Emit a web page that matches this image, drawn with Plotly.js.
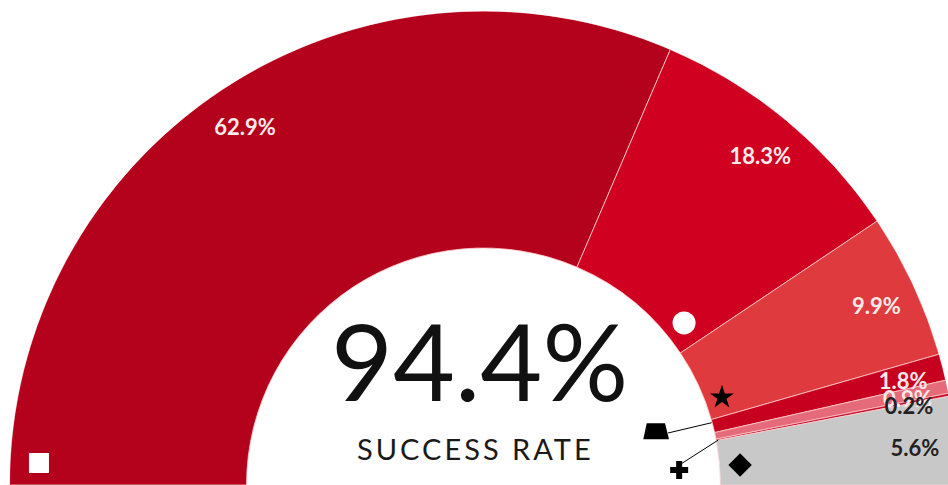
<!DOCTYPE html>
<html><head><meta charset="utf-8">
<script src="https://cdn.plot.ly/plotly-3.0.1.min.js"></script>
<style>
html,body{margin:0;padding:0;background:#fff;overflow:hidden;}
#wrap{width:948px;height:485px;overflow:hidden;position:relative;}
#chart{width:1000px;height:500px;position:absolute;left:0;top:0;}
g.annotation[data-index="1"] text{letter-spacing:3px;}
</style></head><body>
<div id="wrap"><div id="chart"></div></div>
<script>
// ---- data ----
const categories = ['Square', 'Circle', 'Star', 'Trapezoid', 'Unmarked', 'Cross', 'Diamond (failure)'];
const values = [62.9, 18.3, 9.9, 1.8, 0.9, 0.2, 5.6];
const labelTexts = ['62.9%', '18.3%', '9.9%', '1.8%', '0.9%', '0.2%', '5.6%'];
const centerValue = '94.4%';
const centerLabel = 'SUCCESS RATE';

// ---- styles ----
const sliceColors = ['#b4011c', '#cf0020', '#df3b3e', '#c70020', '#e56b7a', '#c41030', '#c8c8c8'];
const labelColors = ['#fbeaea', '#fbeaea', '#fbeaea', '#fbeaea', '#fbeaea', '#222222', '#222222'];

// key symbols placed on the ring (polar position: theta in degrees, r as fraction of outer radius)
const keySymbols = ['square', 'circle', 'star', 'diamond', 'cross'];
const keyTheta = [2.83, 141.06, 159.81, 175.54, 175.61];
const keyR = [0.939, 0.544, 0.536, 0.543, 0.414];
const keySizes = [20, 23, 18, 18, 15];
const keyColors = ['#ffffff', '#ffffff', '#000000', '#000000', '#000000'];

// percentage points -> degrees of the half ring
const DEG_PER_PCT = 1.8;
const thetaMid = [], widths = [];
let cum = 0;
values.forEach((v, i) => {
  let w = v * DEG_PER_PCT;
  if (i === values.length - 1) w = 180 - cum * DEG_PER_PCT; // last slice closes the half ring
  thetaMid.push(cum * DEG_PER_PCT + w / 2);
  widths.push(w);
  cum += v;
});

const ringInner = 0.5, ringOuter = 1.0, labelR = 0.914;

const traces = [
  {
    type: 'barpolar',
    theta: thetaMid,
    width: widths,
    r: values.map(() => ringOuter - ringInner),
    base: values.map(() => ringInner),
    text: categories,
    marker: { color: sliceColors, line: { color: 'rgba(255,205,205,0.8)', width: 1 } },
    hoverinfo: 'text',
    showlegend: false,
    subplot: 'polar'
  },
  {
    type: 'scatterpolar',
    mode: 'markers',
    theta: keyTheta,
    r: keyR,
    marker: { symbol: keySymbols, size: keySizes, color: keyColors, opacity: 1, line: { width: 0 } },
    hoverinfo: 'skip',
    showlegend: false,
    subplot: 'polar'
  },
  {
    type: 'scatterpolar',
    mode: 'text',
    theta: thetaMid,
    r: values.map(() => labelR),
    text: labelTexts,
    textposition: 'middle center',
    textfont: { family: 'Lato', size: 22, color: labelColors, weight: 'bold' },
    hoverinfo: 'skip',
    showlegend: false,
    subplot: 'polar2'
  }
];

const hiddenPolar = (dom) => ({
  domain: dom,
  sector: [0, 180],
  hole: 0,
  bgcolor: 'rgba(0,0,0,0)',
  radialaxis: { visible: false, range: [0, 1], showgrid: false, showline: false, showticklabels: false, ticks: '' },
  angularaxis: { visible: false, rotation: 180, direction: 'clockwise', showgrid: false, showline: false, showticklabels: false, ticks: '' }
});

const layout = {
  width: 1000, height: 500,
  margin: { l: 0, r: 0, t: 0, b: 0 },
  paper_bgcolor: '#ffffff',
  plot_bgcolor: 'rgba(0,0,0,0)',
  showlegend: false,
  font: { family: 'Lato' },
  xaxis: { range: [0, 1000], domain: [0, 1], visible: false, fixedrange: true },
  yaxis: { range: [500, 0], domain: [0, 1], visible: false, fixedrange: true },
  polar: hiddenPolar({ x: [0.0095, 0.9575], y: [0.03, 0.978] }),
  polar2: hiddenPolar({ x: [0.0095, 0.9575], y: [0.017, 0.965] }),
  shapes: [
    { type: 'path', xref: 'x', yref: 'y', path: 'M 646.7 423.3 L 665 423.3 L 669 439.3 L 643.3 439.3 Z',
      fillcolor: '#000000', line: { width: 0 }, layer: 'above' },
    { type: 'line', xref: 'x', yref: 'y', x0: 668, y0: 433, x1: 711.7, y1: 422.7,
      line: { color: '#000000', width: 1 }, layer: 'above' },
    { type: 'line', xref: 'x', yref: 'y', x0: 679.3, y0: 465, x1: 718.3, y1: 440,
      line: { color: '#000000', width: 1 }, layer: 'above' }
  ],
  annotations: [
    { xref: 'x', yref: 'y', x: 479, y: 359, text: centerValue, showarrow: false,
      xanchor: 'center', yanchor: 'middle', font: { family: 'Lato', size: 107, color: '#111111' } },
    { xref: 'x', yref: 'y', x: 475.5, y: 448, text: centerLabel, showarrow: false,
      xanchor: 'center', yanchor: 'middle', font: { family: 'Lato', size: 29, color: '#1a1a1a' } }
  ]
};

Plotly.newPlot('chart', traces, layout, { staticPlot: true, displayModeBar: false });
</script>
</body></html>
